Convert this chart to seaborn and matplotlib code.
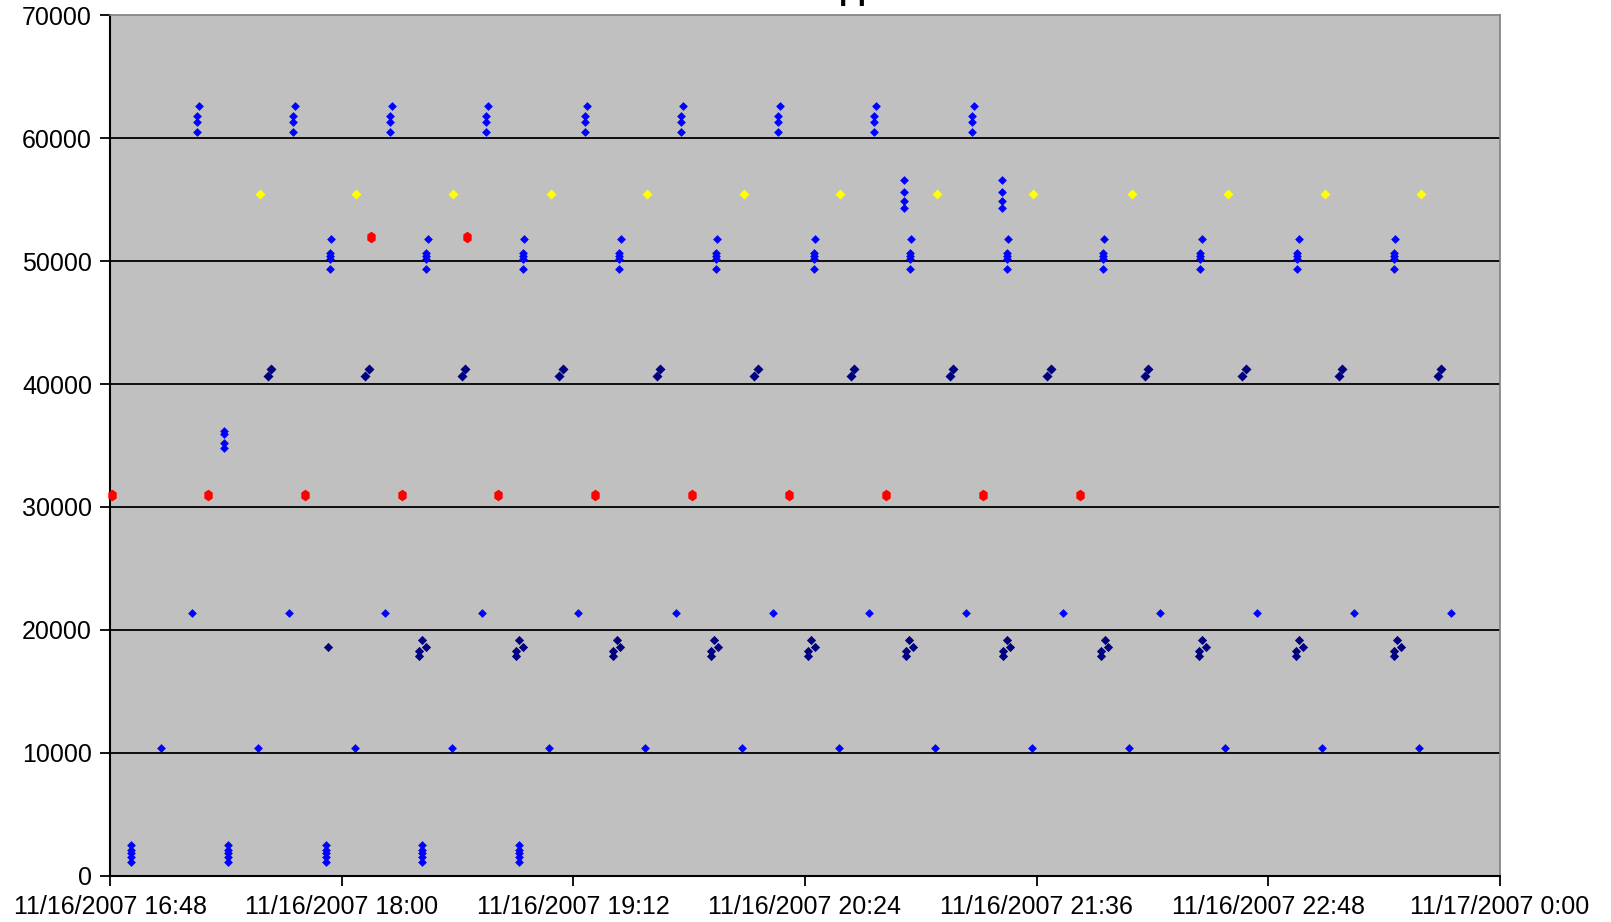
import pandas as pd
import matplotlib
matplotlib.use("Agg")
import matplotlib.pyplot as plt
import seaborn as sns

DAY = "2007-11-16"

# ---- data: cluster times, value levels, per-level time shift (minutes) ----
top_times = ["17:15", "17:45", "18:15", "18:45", "19:15:30", "19:45:30",
             "20:15:30", "20:45:30", "21:16"]
top_values = [60500, 61300, 61800, 62600]
top_shift = [0, 0, 0, 0.6]

yellow_times = ["17:34:30", "18:04:30", "18:34:30", "19:05", "19:35", "20:05",
                "20:35", "21:05", "21:35", "22:05:30", "22:35:30", "23:05:30",
                "23:35:30"]
yellow_values = [55500]

red_hi_times = ["18:09", "18:39"]
red_hi_values = [52000]

mid_times = ["17:56:20", "18:26:20", "18:56:20", "19:26:20", "19:56:20",
             "20:26:40", "20:56:40", "21:26:40", "21:56:40", "22:26:50",
             "22:57", "23:27"]
mid_values = [49400, 50200, 50400, 50700, 51800]
mid_shift = [0, 0, 0, 0, 0.4]

upper_times = ["20:54:50", "21:25:05"]
upper_values = [54300, 54900, 55600, 56600]

navy_hi_times = ["17:37:30", "18:07:50", "18:37:50", "19:08:10", "19:38:30",
                 "20:08:50", "20:38:50", "21:09:30", "21:39:50", "22:10:10",
                 "22:40:30", "23:10:30", "23:41:10"]
navy_hi_values = [40650, 41200]
navy_hi_shift = [-0.55, 0.55]

red_lo_times = ["16:48:30", "17:18:20", "17:48:40", "18:18:40", "18:48:40",
                "19:18:40", "19:49", "20:19", "20:49:05", "21:19:25", "21:49:25"]
red_lo_values = [31000]

burst_times = ["17:23:30"]
burst_values = [34800, 35200, 35900, 36200]

b21_times = ["17:13:30", "17:43:35", "18:13:35", "18:43:35", "19:13:35",
             "19:43:55", "20:13:55", "20:43:55", "21:14", "21:44:20",
             "22:14:20", "22:44:20", "23:14:40", "23:44:40"]
b21_values = [21400]

navy_single_times = ["17:55:40"]
navy_single_values = [18600]

navy_lo_times = ["18:25:05", "18:55:05", "19:25:25", "19:55:40", "20:26",
                 "20:56:25", "21:26:40", "21:57:05", "22:27:25", "22:57:40",
                 "23:28:05"]
navy_lo_values = [17900, 18300, 18600, 19200]
navy_lo_shift = [-1, -1, 1.2, 0]

b10_times = ["17:04", "17:34", "18:04", "18:34:20", "19:04:20", "19:34:20",
             "20:04:25", "20:34:25", "21:04:25", "21:34:40", "22:04:40",
             "22:34:40", "23:04:50", "23:34:50"]
b10_values = [10400]

low_times = ["16:54:40", "17:24:40", "17:55", "18:25:05", "18:55:05"]
low_values = [1100, 1500, 1800, 2050, 2450]

x_tick_labels = ["11/16/2007 16:48", "11/16/2007 18:00", "11/16/2007 19:12",
                 "11/16/2007 20:24", "11/16/2007 21:36", "11/16/2007 22:48",
                 "11/17/2007 0:00"]
y_ticks = [0, 10000, 20000, 30000, 40000, 50000, 60000, 70000]

BLUE, NAVY, YELLOW, RED = "#0000FF", "#000080", "#FFFF00", "#FF0000"
HEX_TALL = [(0, 1), (0.72, 0.5), (0.72, -0.5), (0, -1), (-0.72, -0.5), (-0.72, 0.5)]


def points(times, values, shifts=None):
    shifts = shifts if shifts is not None else [0] * len(values)
    rows = []
    for t in times:
        base = pd.Timestamp(f"{DAY} {t}")
        for v, dm in zip(values, shifts):
            rows.append({"time": base + pd.Timedelta(minutes=dm), "value": v})
    return pd.DataFrame(rows)


series = [
    (points(b21_times, b21_values), BLUE, "D", 20),
    (points(b10_times, b10_values), BLUE, "D", 20),
    (points(low_times, low_values), BLUE, "D", 20),
    (points(burst_times, burst_values), BLUE, "D", 20),
    (points(top_times, top_values, top_shift), BLUE, "D", 20),
    (points(mid_times, mid_values, mid_shift), BLUE, "D", 20),
    (points(upper_times, upper_values), BLUE, "D", 20),
    (points(navy_hi_times, navy_hi_values, navy_hi_shift), NAVY, "D", 26),
    (points(navy_single_times, navy_single_values), NAVY, "D", 22),
    (points(navy_lo_times, navy_lo_values, navy_lo_shift), NAVY, "D", 22),
    (points(yellow_times, yellow_values), YELLOW, "D", 26),
    (points(red_lo_times, red_lo_values), RED, HEX_TALL, 70),
    (points(red_hi_times, red_hi_values), RED, HEX_TALL, 70),
]

plt.rcParams["font.family"] = ["Liberation Sans", "DejaVu Sans"]

fig = plt.figure(figsize=(16.11, 9.22), dpi=100)
ax = fig.add_axes([110 / 1611, 1 - 875.5 / 922, 1390 / 1611, 860 / 922])
ax.set_facecolor("#C0C0C0")

for df, color, marker, size in series:
    sns.scatterplot(data=df, x="time", y="value", ax=ax, color=color,
                    marker=marker, s=size, linewidth=0, edgecolor=color,
                    zorder=5, clip_on=False, legend=False)

x_ticks = pd.to_datetime(x_tick_labels, format="%m/%d/%Y %H:%M")
ax.set_xlim(x_ticks[0], x_ticks[-1])
ax.set_xticks(x_ticks)
ax.set_xticklabels(x_tick_labels)
ax.set_ylim(0, 70000)
ax.set_yticks(y_ticks)
ax.set_yticklabels([str(v) for v in y_ticks])
ax.set_xlabel("")
ax.set_ylabel("")

ax.grid(False)
for v in y_ticks[1:-1]:
    ax.axhline(v, color="black", lw=1.3, zorder=1)

ax.tick_params(axis="both", direction="out", color="black", width=1.3,
               labelsize=18, labelcolor="black")
ax.tick_params(axis="y", length=7, pad=6)
ax.tick_params(axis="x", length=7, pad=7)

for side in ("left", "bottom"):
    ax.spines[side].set_color("black")
    ax.spines[side].set_linewidth(1.5)
for side in ("top", "right"):
    ax.spines[side].set_color("#808080")
    ax.spines[side].set_linewidth(1.2)

fig.text(817 / 1611, 1 + 1.5 / 922, "Application", ha="left", va="baseline",
         fontsize=22, fontweight="bold", color="black")

fig.savefig("out.png", dpi=100, facecolor="white")
